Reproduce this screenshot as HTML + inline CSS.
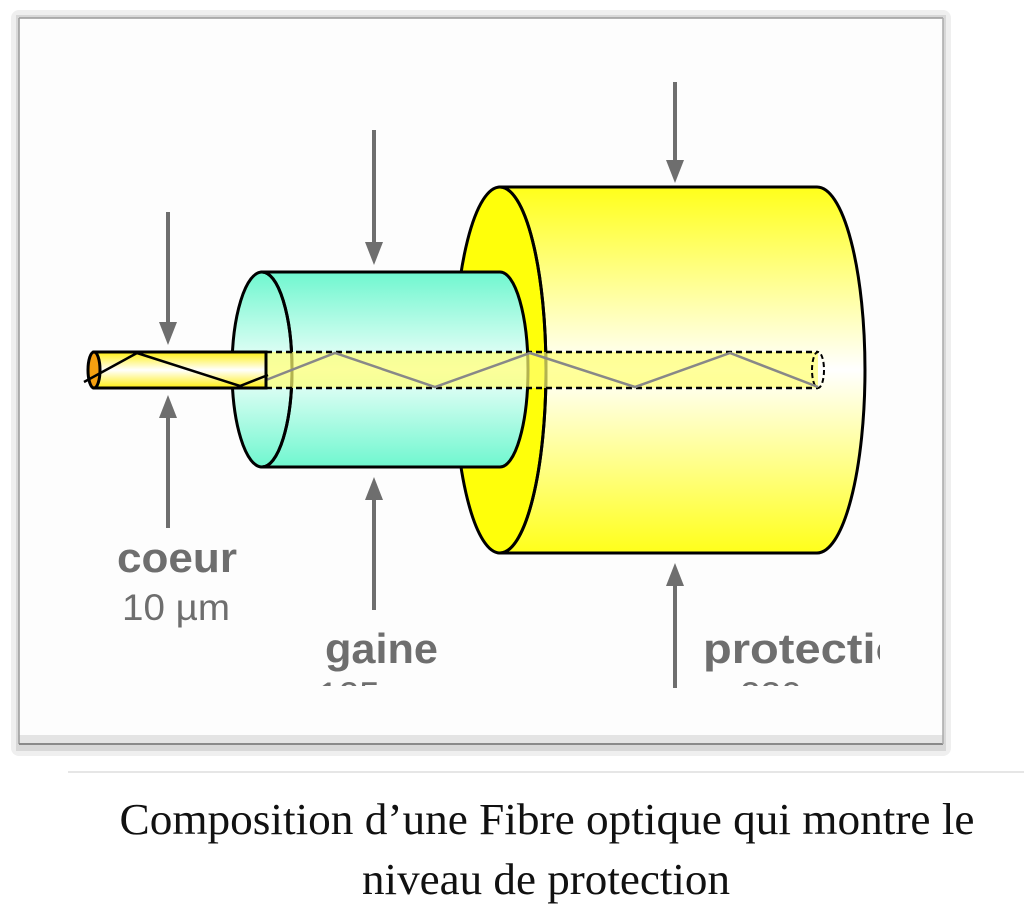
<!DOCTYPE html>
<html><head><meta charset="utf-8"><style>
html,body{margin:0;padding:0;background:#fff;width:1024px;height:924px;overflow:hidden}
</style></head><body>
<svg width="1024" height="924" viewBox="0 0 1024 924" xmlns="http://www.w3.org/2000/svg">
<defs>
<linearGradient id="py" x1="0" y1="0" x2="0" y2="1">
<stop offset="0" stop-color="#ffff1a"/><stop offset="0.5" stop-color="#ffffff"/><stop offset="1" stop-color="#ffff1a"/></linearGradient>
<linearGradient id="gc" x1="0" y1="0" x2="0" y2="1">
<stop offset="0" stop-color="#6ff7cf"/><stop offset="0.5" stop-color="#f2fffb"/><stop offset="1" stop-color="#6ff7cf"/></linearGradient>
<linearGradient id="cy" x1="0" y1="0" x2="0" y2="1">
<stop offset="0" stop-color="#ffef10"/><stop offset="0.5" stop-color="#ffffff"/><stop offset="1" stop-color="#ffef10"/></linearGradient>
<clipPath id="cl"><rect x="20" y="20" width="920" height="666"/></clipPath>
</defs>
<rect x="11" y="10" width="940" height="746" rx="8" fill="#efefef"/>
<rect x="16" y="15" width="930" height="736" fill="#d8d8d8"/>
<rect x="19" y="18" width="924" height="726" fill="#fdfdfd"/>
<rect x="19" y="735" width="924" height="10" fill="#e4e4e4"/>
<line x1="19" y1="18" x2="943" y2="18" stroke="#9a9a9a" stroke-width="1.5"/>
<line x1="19" y1="18" x2="19" y2="744" stroke="#9a9a9a" stroke-width="1.5"/>
<line x1="19" y1="744" x2="943" y2="744" stroke="#8a8a8a" stroke-width="2"/>
<line x1="943" y1="18" x2="943" y2="744" stroke="#aaa" stroke-width="1.5"/>
<line x1="68" y1="772" x2="1024" y2="772" stroke="#e6e6e6" stroke-width="2"/>

<path d="M500 187 L817 187 A48 183 0 0 1 817 553 L500 553 Z" fill="url(#py)" stroke="#000" stroke-width="3"/>
<ellipse cx="500" cy="370" rx="46" ry="183" fill="#ffff0a" stroke="#000" stroke-width="3"/>
<path d="M262 272 L500 272 A28 97.5 0 0 1 500 467 L262 467 Z" fill="url(#gc)" stroke="#000" stroke-width="3"/>
<ellipse cx="262" cy="369.5" rx="30" ry="97.5" fill="url(#gc)" stroke="#000" stroke-width="3"/>
<path d="M500 187 A46 183 0 0 1 500 553" fill="none" stroke="#000" stroke-width="3"/>
<path d="M262 272 A30 97.5 0 0 1 262 467" fill="none" stroke="#000" stroke-width="3"/>
<rect x="266" y="352" width="552" height="36" fill="#ffff70" opacity="0.7"/>
<line x1="266" y1="352" x2="818" y2="352" stroke="#000" stroke-width="2.5" stroke-dasharray="6,4"/>
<line x1="266" y1="388" x2="818" y2="388" stroke="#000" stroke-width="2.5" stroke-dasharray="6,4"/>
<ellipse cx="818" cy="370" rx="6" ry="18" fill="none" stroke="#000" stroke-width="2" stroke-dasharray="5,3"/>
<polyline points="266,380 335,353 435,387 530,353 635,387 730,353 818,387" fill="none" stroke="#888" stroke-width="2.5"/>
<path d="M94 352 L266 352 L266 388 L94 388 Z" fill="url(#cy)" stroke="#000" stroke-width="3"/>
<ellipse cx="94" cy="370" rx="6" ry="18" fill="#f5a010" stroke="#000" stroke-width="3"/>
<polyline points="84,382 137,353 240,386 268,375" fill="none" stroke="#000" stroke-width="2.5"/>

<g fill="#6e6e6e" stroke="#6e6e6e">
<line x1="168" y1="212" x2="168" y2="325" stroke-width="4"/><path d="M159 322 L177 322 L168 345 Z" stroke="none"/>
<line x1="168" y1="415" x2="168" y2="528" stroke-width="4"/><path d="M159 418 L177 418 L168 395 Z" stroke="none"/>
<line x1="374" y1="130" x2="374" y2="245" stroke-width="4"/><path d="M365 242 L383 242 L374 265 Z" stroke="none"/>
<line x1="374" y1="497" x2="374" y2="610" stroke-width="4"/><path d="M365 500 L383 500 L374 477 Z" stroke="none"/>
<line x1="675" y1="82" x2="675" y2="163" stroke-width="4"/><path d="M666 160 L684 160 L675 183 Z" stroke="none"/>
<line x1="675" y1="583" x2="675" y2="688" stroke-width="4"/><path d="M666 586 L684 586 L675 563 Z" stroke="none"/>
</g>
<g clip-path="url(#cl)" fill="#6e6e6e" font-family="Liberation Sans, sans-serif">
<text x="117" y="572" font-size="42" font-weight="bold" textLength="120" lengthAdjust="spacingAndGlyphs">coeur</text>
<text x="122" y="620" font-size="37" textLength="108" lengthAdjust="spacingAndGlyphs">10 µm</text>
<text x="325" y="663" font-size="42" font-weight="bold" textLength="113" lengthAdjust="spacingAndGlyphs">gaine</text>
<text x="318" y="708" font-size="37">125 µm</text>
<svg x="0" y="0" width="880" height="924"><text x="703" y="663" font-size="42" font-weight="bold" textLength="230" lengthAdjust="spacingAndGlyphs">protection</text>
<text x="740" y="708" font-size="37">230 µm</text></svg>
</g>
<g font-family="Liberation Serif, serif" font-size="44" fill="#111" text-anchor="middle">
<text x="547" y="834" textLength="855" lengthAdjust="spacingAndGlyphs">Composition d’une Fibre optique qui montre le</text>
<text x="546" y="894" textLength="368" lengthAdjust="spacingAndGlyphs">niveau de protection</text>
</g>
</svg>
</body></html>
